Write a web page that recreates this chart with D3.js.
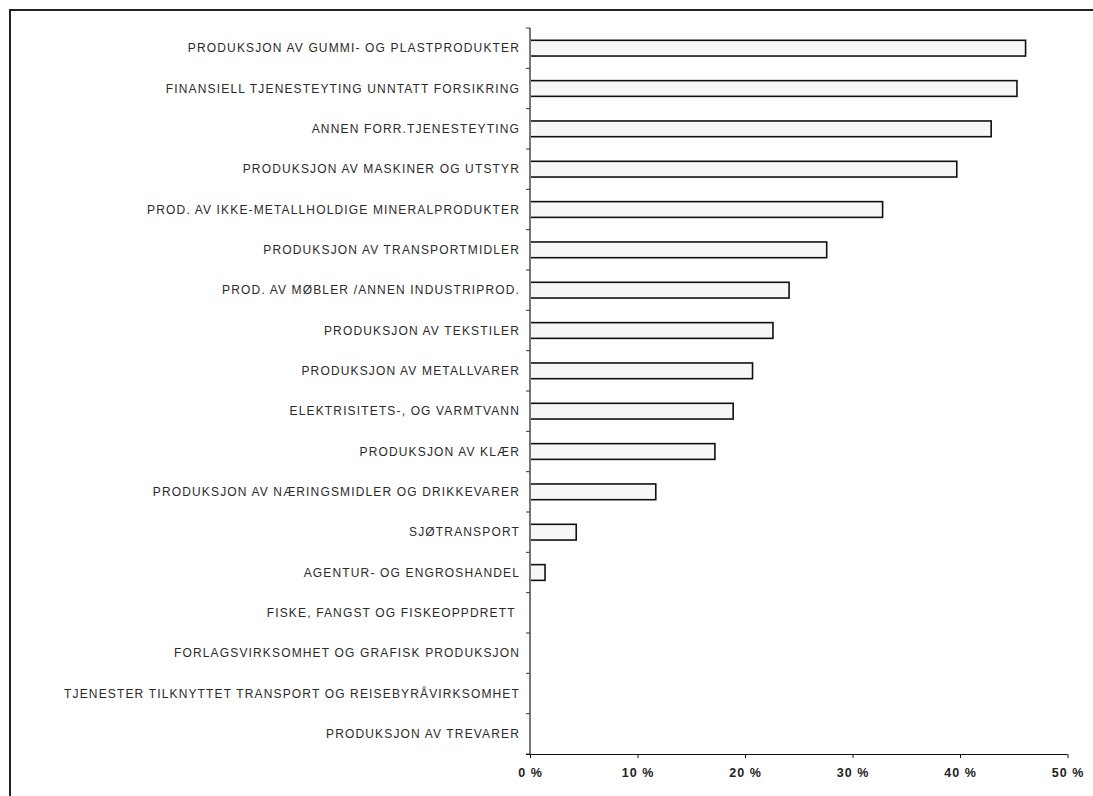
<!DOCTYPE html>
<html>
<head>
<meta charset="utf-8">
<script src="https://cdn.jsdelivr.net/npm/d3@7"></script>
<style>
  html, body { margin: 0; padding: 0; background: #fff; }
  svg { display: block; }
  .cat text { white-space: pre; }
</style>
</head>
<body>
<script>
// Industry categories, top to bottom
const categories = [
  "PRODUKSJON AV GUMMI- OG PLASTPRODUKTER",
  "FINANSIELL TJENESTEYTING UNNTATT FORSIKRING",
  "ANNEN FORR.TJENESTEYTING",
  "PRODUKSJON AV MASKINER OG UTSTYR",
  "PROD. AV IKKE-METALLHOLDIGE MINERALPRODUKTER",
  "PRODUKSJON AV TRANSPORTMIDLER",
  "PROD. AV MØBLER /ANNEN INDUSTRIPROD.",
  "PRODUKSJON AV TEKSTILER",
  "PRODUKSJON AV METALLVARER",
  "ELEKTRISITETS-, OG VARMTVANN",
  "PRODUKSJON AV KLÆR",
  "PRODUKSJON AV NÆRINGSMIDLER OG DRIKKEVARER",
  "SJØTRANSPORT",
  "AGENTUR- OG ENGROSHANDEL",
  "FISKE, FANGST OG FISKEOPPDRETT ",
  "FORLAGSVIRKSOMHET OG GRAFISK PRODUKSJON",
  "TJENESTER TILKNYTTET TRANSPORT OG REISEBYRÅVIRKSOMHET",
  "PRODUKSJON AV TREVARER"
];

// Share per category (fraction)
const values = [
  0.461, 0.453, 0.429, 0.397, 0.328, 0.276, 0.241, 0.226, 0.207,
  0.189, 0.172, 0.117, 0.043, 0.014, 0, 0, 0, 0
];

// X axis ticks
const xTicks = [0, 0.1, 0.2, 0.3, 0.4, 0.5];
const xTickLabels = ["0 %", "10 %", "20 %", "30 %", "40 %", "50 %"];

const W = 1093, H = 796;
const plot = { left: 530, right: 1067.5, top: 28, bottom: 754 };

const svg = d3.select("body").append("svg")
  .attr("width", W).attr("height", H);

// Outer frame
svg.append("rect")
  .attr("x", 10).attr("y", 10)
  .attr("width", W + 20).attr("height", H + 20)
  .attr("fill", "none")
  .attr("stroke", "#222")
  .attr("stroke-width", 2);

const x = d3.scaleLinear().domain([0, 0.5]).range([plot.left, plot.right]);
const y = d3.scaleBand().domain(categories).range([plot.top, plot.bottom])
  .paddingInner(0.61).paddingOuter(0.305);

// Bars
svg.append("g").selectAll("rect")
  .data(categories.map((c, i) => ({ c, v: values[i] })).filter(d => d.v > 0))
  .join("rect")
  .attr("x", x(0))
  .attr("y", d => y(d.c))
  .attr("width", d => x(d.v) - x(0))
  .attr("height", y.bandwidth())
  .attr("fill", "#f7f7f7")
  .attr("stroke", "#111")
  .attr("stroke-width", 1.6);

// Y axis: line with boundary ticks on the left
const yAxis = svg.append("g").attr("class", "yaxis");
yAxis.append("line")
  .attr("x1", x(0)).attr("x2", x(0))
  .attr("y1", plot.top).attr("y2", plot.bottom)
  .attr("stroke", "#777").attr("stroke-width", 2);
yAxis.selectAll("line.tick")
  .data(d3.range(categories.length + 1))
  .join("line")
  .attr("class", "tick")
  .attr("x1", x(0) - 4).attr("x2", x(0))
  .attr("y1", i => plot.top + i * (plot.bottom - plot.top) / categories.length)
  .attr("y2", i => plot.top + i * (plot.bottom - plot.top) / categories.length)
  .attr("stroke", "#333").attr("stroke-width", 1);

// Category labels
svg.append("g").attr("class", "cat").selectAll("text")
  .data(categories)
  .join("text")
  .attr("x", x(0) - 10)
  .attr("y", d => y(d) + y.bandwidth() / 2)
  .attr("dy", "0.35em")
  .attr("text-anchor", "end")
  .attr("font-family", "Liberation Sans, Arial, sans-serif")
  .attr("font-size", 12)
  .attr("letter-spacing", 1.15)
  .attr("fill", "#2a2a2a")
  .text(d => d);

// X axis
const xAxis = d3.axisBottom(x)
  .tickValues(xTicks)
  .tickFormat((d, i) => xTickLabels[i])
  .tickSize(4)
  .tickSizeOuter(0);
const gx = svg.append("g")
  .attr("transform", `translate(0,${plot.bottom})`)
  .call(xAxis);
gx.select(".domain").attr("stroke", "#111").attr("stroke-width", 1.2)
  .attr("d", `M${x(0) - 4},0.5H${x(0.5)}`);
gx.selectAll(".tick line").attr("stroke", "#111");
gx.selectAll(".tick text")
  .attr("y", 14)
  .attr("font-family", "Liberation Sans, Arial, sans-serif")
  .attr("font-size", 12.5)
  .attr("font-weight", "bold")
  .attr("letter-spacing", 1)
  .attr("fill", "#222");
</script>
</body>
</html>
